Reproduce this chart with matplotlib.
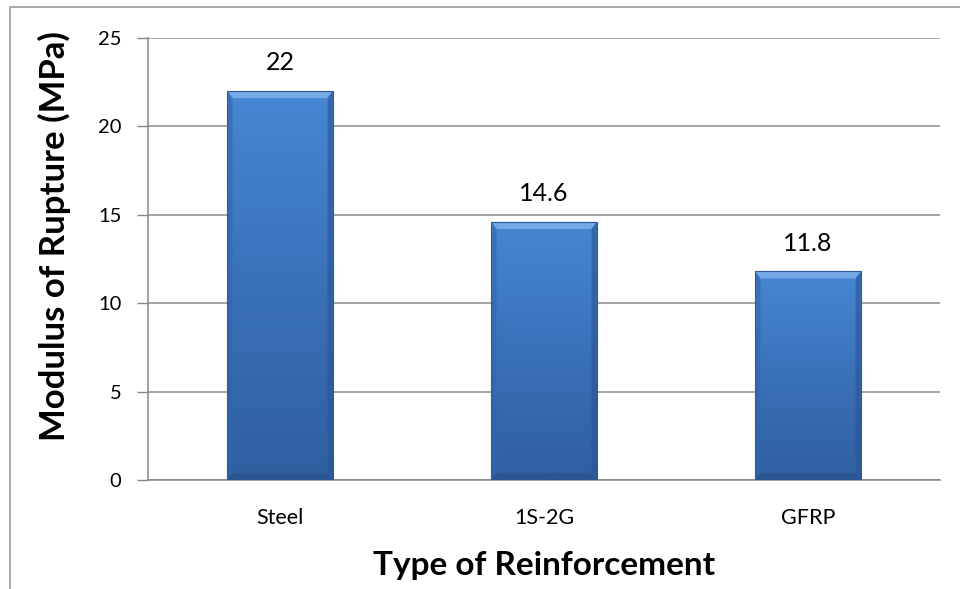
import matplotlib
matplotlib.use("Agg")
import matplotlib.pyplot as plt
import numpy as np
from matplotlib.patches import Polygon
from matplotlib.lines import Line2D
from matplotlib.colors import LinearSegmentedColormap

categories = ["Steel", "1S-2G", "GFRP"]
values = [22, 14.6, 11.8]
value_labels = ["22", "14.6", "11.8"]
yticks = [0, 5, 10, 15, 20, 25]

plt.rcParams['font.family'] = ['Lato', 'DejaVu Sans']

fig = plt.figure(figsize=(9.6, 5.89), dpi=100)
ax = fig.add_axes([148/960, 1-480/589, (940-148)/960, (480-38)/589])

x = np.arange(len(categories))
bars = ax.bar(x, values, width=0.40, color='#3b74bd', edgecolor='none', zorder=3)

ax.set_xlim(-0.5, len(categories)-0.5)
ax.set_ylim(0, 25)
ax.set_yticks(yticks)
ax.set_xticks(x)
ax.set_xticklabels(categories, fontsize=15.5)
ax.tick_params(axis='x', length=0, pad=20)
ax.tick_params(axis='y', length=8, width=1, color='#868686', labelsize=14.5, pad=11)
ax.yaxis.grid(True, color='#8c8c8c', linewidth=1.1, zorder=0)
ax.set_axisbelow(True)
for s in ['top', 'right']:
    ax.spines[s].set_visible(False)
ax.spines['left'].set_color('#868686')
ax.spines['bottom'].set_color('#868686')
ax.spines['left'].set_linewidth(1.1)
ax.spines['bottom'].set_linewidth(1.1)

cmap = LinearSegmentedColormap.from_list('bar', ['#2f5f9f', '#3a71b9', '#4787d3'])
grad = np.linspace(0, 1, 256).reshape(-1, 1)
for b in bars:
    x0, w, h = b.get_x(), b.get_width(), b.get_height()
    im = ax.imshow(grad, extent=[x0, x0 + w, 0, h], origin='lower', cmap=cmap,
                   aspect='auto', zorder=4)
    im.set_clip_path(b)
    bx = w * 0.05
    by = 0.4
    # top bevel
    ax.add_patch(Polygon([[x0, h], [x0 + w, h], [x0 + w - bx, h - by], [x0 + bx, h - by]],
                         closed=True, facecolor='#7fb0ea', edgecolor='none', alpha=0.85, zorder=5))
    # left bevel
    ax.add_patch(Polygon([[x0, h], [x0 + bx, h - by], [x0 + bx, by], [x0, 0]],
                         closed=True, facecolor='#3366a8', edgecolor='none', alpha=0.6, zorder=5))
    # right bevel
    ax.add_patch(Polygon([[x0 + w, h], [x0 + w - bx, h - by], [x0 + w - bx, by], [x0 + w, 0]],
                         closed=True, facecolor='#2a5590', edgecolor='none', alpha=0.6, zorder=5))
    # bottom bevel
    ax.add_patch(Polygon([[x0, 0], [x0 + w, 0], [x0 + w - bx, by], [x0 + bx, by]],
                         closed=True, facecolor='#27508a', edgecolor='none', alpha=0.6, zorder=5))
    # outline
    ax.add_patch(Polygon([[x0, 0], [x0, h], [x0 + w, h], [x0 + w, 0]], closed=True,
                         facecolor='none', edgecolor='#2c5a96', linewidth=0.8, zorder=6))

for b, lab in zip(bars, value_labels):
    ax.annotate(lab, (b.get_x() + b.get_width()/2, b.get_height()), xytext=(0, 12),
                textcoords='offset points', ha='center', va='bottom', fontsize=18, color='#000000')

ax.set_xlabel('Type of Reinforcement', fontsize=24, fontweight='bold', labelpad=17)
ax.set_ylabel('Modulus of Rupture (MPa)', fontsize=25, fontweight='bold', va='baseline')
ax.yaxis.set_label_coords((65 - 148) / 792, (480 - 236) / 442)

# chart border
fig.add_artist(Line2D([10/960, 10/960, 1.0], [0.0, 1-7/589, 1-7/589], transform=fig.transFigure,
                      color='#9a9a9a', linewidth=1.2))

fig.savefig('out.png', dpi=100)
